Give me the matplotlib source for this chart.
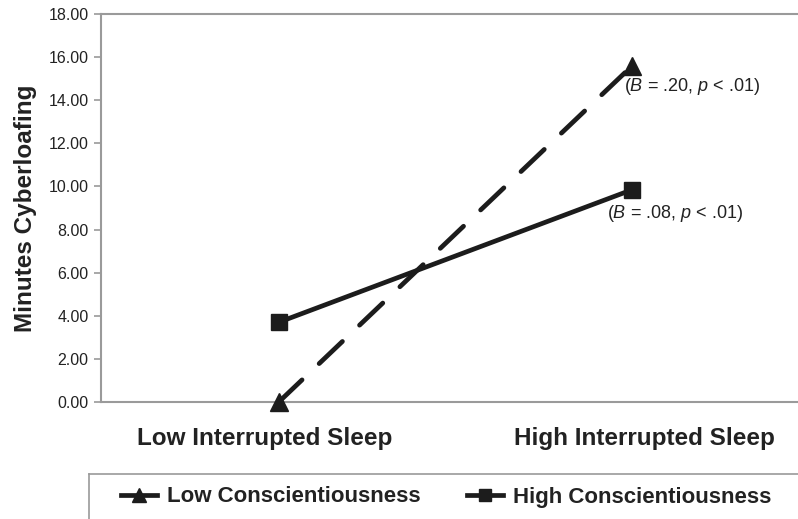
import matplotlib
matplotlib.use("Agg")
import matplotlib.pyplot as plt
from matplotlib.lines import Line2D

plt.rcParams['font.family'] = ['Liberation Sans', 'DejaVu Sans']
plt.rcParams['mathtext.fontset'] = 'custom'
plt.rcParams['mathtext.it'] = 'Liberation Sans:italic'
plt.rcParams['mathtext.rm'] = 'Liberation Sans'

categories = ["Low Interrupted Sleep", "High Interrupted Sleep"]
low_consc = [0.0, 15.6]
high_consc = [3.7, 9.85]
series_names = ["Low Conscientiousness", "High Conscientiousness"]
notes = [r"($\it{B}$ = .20, $\it{p}$ < .01)", r"($\it{B}$ = .08, $\it{p}$ < .01)"]

ink = "#1c1c1c"
grey = "#9a9a9a"

fig = plt.figure(figsize=(7.98, 5.19), dpi=100)
ax = fig.add_axes([101 / 798, 1 - 402 / 519, 1 - 101 / 798, (402 - 14) / 519])

x = [0, 1]
ax.plot(x, low_consc, color=ink, lw=3.4, dashes=(6.8, 5.0), marker="^",
        markersize=13, label=series_names[0], dash_capstyle="round",
        clip_on=False, zorder=5)
ax.plot(x, high_consc, color=ink, lw=3.4, marker="s", markersize=11,
        label=series_names[1], clip_on=False, zorder=5)

ax.set_xlim(-0.503, 1.469)
ax.set_ylim(0, 18)
ax.set_yticks(range(0, 19, 2))
ax.set_yticklabels([f"{v:.2f}" for v in range(0, 19, 2)], fontsize=11.5, color="#222222")
# category labels sit slightly outside the marker columns, as in the original
ax.set_xticks([-0.04, 1.035])
ax.set_xticklabels(categories, fontsize=17.5, fontweight="bold", color="#222222")
ax.tick_params(axis="x", length=0, pad=18)
ax.tick_params(axis="y", length=5, color=grey, width=1.2, pad=4)
ax.set_ylabel("Minutes Cyberloafing", fontsize=17.5, fontweight="bold", color="#222222", labelpad=8)

for s in ["left", "top", "bottom"]:
    ax.spines[s].set_color(grey)
    ax.spines[s].set_linewidth(1.5)
ax.spines["right"].set_visible(False)

ax.annotate(notes[0], (x[1], low_consc[1]), xytext=(-6, -15), textcoords="offset points",
            fontsize=13, color="#222222", ha="left", va="center")
ax.annotate(notes[1], (x[1], high_consc[1]), xytext=(-18, -17), textcoords="offset points",
            fontsize=13, color="#222222", ha="left", va="center")

# legend frame (cropped box)
fig.add_artist(Line2D([89 / 798, 1], [1 - 474 / 519] * 2, color=grey, lw=1.2))
fig.add_artist(Line2D([89 / 798] * 2, [1 - 474 / 519, 0], color=grey, lw=1.2))
leg = fig.legend(loc="center", bbox_to_anchor=(446 / 798, 1 - 497 / 519), ncol=2,
                 frameon=False, fontsize=16, handlelength=1.6, columnspacing=2.1,
                 handletextpad=0.45, markerscale=0.75)
for t in leg.get_texts():
    t.set_fontweight("bold")
    t.set_color("#222222")
for h in leg.legend_handles:
    h.set_linestyle("-")

fig.savefig("out.png", dpi=100)
